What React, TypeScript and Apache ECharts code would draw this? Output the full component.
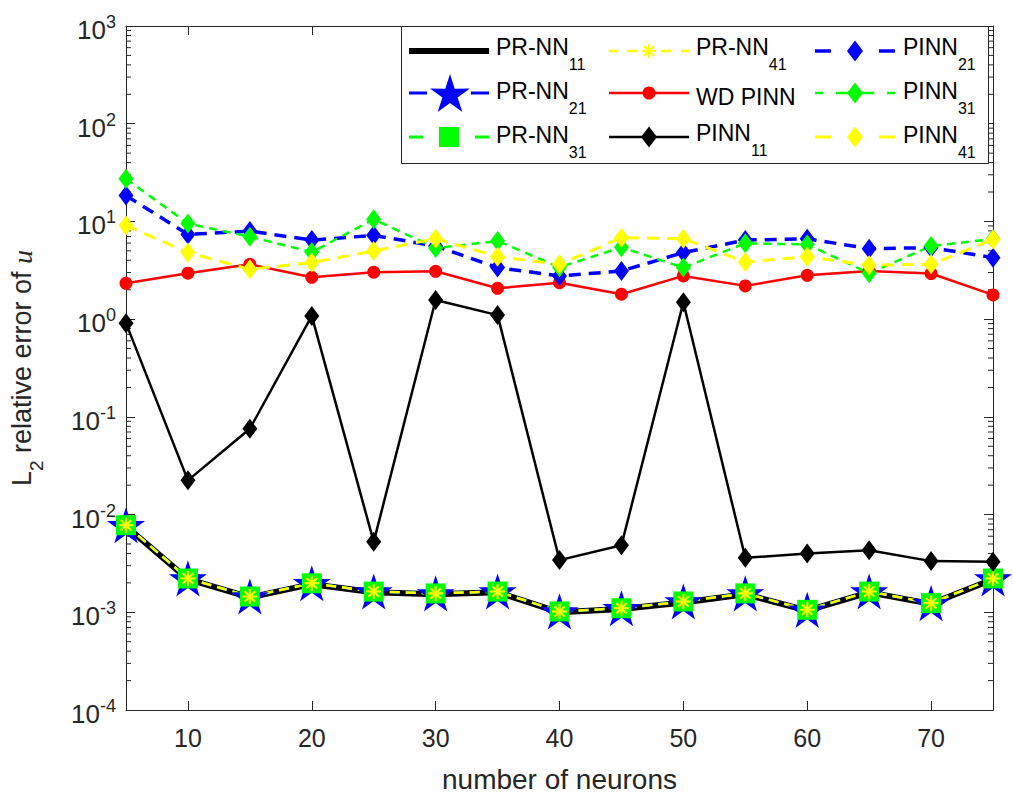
import React, { useEffect, useRef } from 'react';
import * as echarts from 'echarts';

const neurons = [5, 10, 15, 20, 25, 30, 35, 40, 45, 50, 55, 60, 65, 70, 75];
const prnn11 = [0.0076, 0.00218, 0.00142, 0.00194, 0.0016, 0.00153, 0.0016, 0.001, 0.00108, 0.00126, 0.00153, 0.00104, 0.0016, 0.00122, 0.00218];
const prnn21 = [0.00778, 0.00222, 0.00145, 0.00198, 0.00163, 0.00156, 0.00163, 0.00102, 0.0011, 0.00129, 0.00156, 0.00106, 0.00163, 0.00124, 0.00222];
const prnn31 = [0.00778, 0.00222, 0.00145, 0.00198, 0.00163, 0.00156, 0.00163, 0.00102, 0.0011, 0.00129, 0.00156, 0.00106, 0.00163, 0.00124, 0.00222];
const prnn41 = [0.00778, 0.00222, 0.00145, 0.00198, 0.00163, 0.00156, 0.00163, 0.00102, 0.0011, 0.00129, 0.00156, 0.00106, 0.00163, 0.00124, 0.00222];
const wdPinn = [2.33, 2.95, 3.64, 2.68, 3.02, 3.09, 2.07, 2.36, 1.8, 2.77, 2.19, 2.81, 3.11, 2.93, 1.77];
const pinn11 = [0.91, 0.0224, 0.0755, 1.08, 0.00526, 1.57, 1.1, 0.00342, 0.00486, 1.49, 0.00361, 0.004, 0.00432, 0.00334, 0.00329];
const pinn21 = [18.4, 7.37, 7.96, 6.44, 7.2, 5.6, 3.37, 2.77, 3.11, 4.8, 6.44, 6.66, 5.26, 5.39, 4.26];
const pinn31 = [27.3, 9.5, 6.98, 4.86, 10.5, 5.34, 6.3, 3.4, 5.43, 3.37, 5.97, 5.82, 2.95, 5.6, 6.6];
const pinn41 = [9.1, 4.8, 3.24, 3.79, 4.98, 6.66, 4.36, 3.64, 6.82, 6.66, 3.84, 4.36, 3.56, 3.64, 6.55];

const xTicks = [10, 20, 30, 40, 50, 60, 70];
const minorMultipliers = [2, 3, 4, 5, 6, 7, 8, 9];
const minorDecades = [-4, -3, -2, -1, 0, 1, 2];

const legendLabels: Record<string, string> = {
  'PR-NN11': '{m|PR-NN}{sub|11}',
  'PR-NN21': '{m|PR-NN}{sub|21}',
  'PR-NN31': '{m|PR-NN}{sub|31}',
  'PR-NN41': '{m|PR-NN}{sub|41}',
  'WD PINN': '{w|WD PINN}',
  'PINN11': '{m|PINN}{sub|11}',
  'PINN21': '{m|PINN}{sub|21}',
  'PINN31': '{m|PINN}{sub|31}',
  'PINN41': '{m|PINN}{sub|41}',
};

const STAR = 'path://M50 0 L61.17 34.63 L97.55 34.55 L68.07 55.87 L79.39 90.45 L50 69 L20.61 90.45 L31.93 55.87 L2.45 34.55 L38.83 34.63 Z';
const ASTERISK = 'path://M0 43 H100 V57 H0 Z M43 0 H57 V100 H43 Z M19.95 10.05 L89.95 80.05 L80.05 89.95 L10.05 19.95 Z M89.95 19.95 L19.95 89.95 L10.05 80.05 L80.05 10.05 Z';
const STAR_UNIT = [
  [0, -1], [0.2234, -0.3074], [0.951, -0.309], [0.3614, 0.1174], [0.5878, 0.809],
  [0, 0.38], [-0.5878, 0.809], [-0.3614, 0.1174], [-0.951, -0.309], [-0.2234, -0.3074],
];

const FONT = "'Liberation Sans', Arial, Helvetica, sans-serif";
const AX = '#262626';
const BLUE = '#0000ff';
const GREEN = '#00ff00';
const YELLOW = '#ffff00';
const RED = '#ff0000';
const BLACK = '#000000';

function toPairs(vals: number[]) {
  return neurons.map((n, i) => [n, vals[i]]);
}

// legend icon helpers (decoration only)
const Z_ICON = 20;
function seg(x1: number, x2: number, y: number, color: string, w: number) {
  return { type: 'line', z: Z_ICON, silent: true, shape: { x1, y1: y, x2, y2: y }, style: { stroke: color, lineWidth: w } };
}
function diamond(cx: number, cy: number, color: string) {
  return {
    type: 'polygon', z: Z_ICON + 1, silent: true,
    shape: { points: [[cx, cy - 10.5], [cx + 8, cy], [cx, cy + 10.5], [cx - 8, cy]] },
    style: { fill: color },
  };
}
function star(cx: number, cy: number, r: number, color: string) {
  return {
    type: 'polygon', z: Z_ICON + 1, silent: true,
    shape: { points: STAR_UNIT.map((p) => [cx + p[0] * r, cy + p[1] * r + r * 0.1]) },
    style: { fill: color },
  };
}
function asterisk(cx: number, cy: number, r: number, color: string) {
  const d = r * 0.72;
  return {
    type: 'group', z: Z_ICON + 1, silent: true,
    children: [
      { type: 'line', z: Z_ICON + 1, shape: { x1: cx - r, y1: cy, x2: cx + r, y2: cy }, style: { stroke: color, lineWidth: 2 } },
      { type: 'line', z: Z_ICON + 1, shape: { x1: cx, y1: cy - r, x2: cx, y2: cy + r }, style: { stroke: color, lineWidth: 2 } },
      { type: 'line', z: Z_ICON + 1, shape: { x1: cx - d, y1: cy - d, x2: cx + d, y2: cy + d }, style: { stroke: color, lineWidth: 2 } },
      { type: 'line', z: Z_ICON + 1, shape: { x1: cx + d, y1: cy - d, x2: cx - d, y2: cy + d }, style: { stroke: color, lineWidth: 2 } },
    ],
  };
}

export default function App() {
  const ref = useRef<HTMLDivElement>(null);
  useEffect(() => {
    if (!ref.current) return;
    const chart = echarts.init(ref.current, undefined, { renderer: 'svg' });

    const minorData: number[][] = [];
    minorDecades.forEach((d) => {
      minorMultipliers.forEach((m) => {
        minorData.push([5, m * Math.pow(10, d)]);
      });
    });

    const legendText = {
      fontFamily: FONT,
      fontSize: 23,
      color: '#000',
      rich: {
        m: { fontFamily: FONT, fontSize: 23, color: '#000', lineHeight: 26, verticalAlign: 'top' },
        w: { fontFamily: FONT, fontSize: 23, color: '#000', lineHeight: 26, verticalAlign: 'top', padding: [5, 0, 6, 0] },
        sub: { fontFamily: FONT, fontSize: 16, color: '#000', lineHeight: 37, verticalAlign: 'bottom' },
      },
    };

    const mkLegend = (names: string[], left: number) => ({
      data: names,
      orient: 'vertical',
      left,
      top: 35,
      padding: 0,
      itemWidth: 81,
      itemHeight: 36,
      itemGap: 7,
      selectedMode: false,
      formatter: (n: string) => legendLabels[n] || n,
      textStyle: legendText,
      itemStyle: { opacity: 0 },
      lineStyle: { opacity: 0 },
      z: 10,
    });

    const r1 = 51, r2 = 93, r3 = 137;
    const legendIcons: any[] = [
      // column 1
      seg(409, 489, r1, BLACK, 6),
      seg(409, 427, r2, BLUE, 3), seg(471, 489, r2, BLUE, 3), star(450, r2, 21, BLUE),
      seg(409, 423, r3, GREEN, 3), seg(475, 489, r3, GREEN, 3),
      { type: 'rect', z: Z_ICON + 1, silent: true, shape: { x: 439, y: r3 - 10, width: 20, height: 20 }, style: { fill: GREEN } },
      // column 2
      seg(609, 617, r1, YELLOW, 2.5), seg(627, 637, r1, YELLOW, 2.5), seg(661, 671, r1, YELLOW, 2.5), seg(681, 689, r1, YELLOW, 2.5),
      asterisk(649, r1, 7, YELLOW),
      seg(609, 689, r2, RED, 2.5),
      { type: 'circle', z: Z_ICON + 1, silent: true, shape: { cx: 649, cy: r2, r: 6.5 }, style: { fill: RED } },
      seg(609, 689, r3, BLACK, 2.5), diamond(649, r3, BLACK),
      // column 3
      seg(815, 831, r1, BLUE, 3.5), seg(879, 895, r1, BLUE, 3.5), diamond(855, r1, BLUE),
      seg(815, 823, r2, GREEN, 2.5), seg(836, 848, r2, GREEN, 2.5), seg(862, 874, r2, GREEN, 2.5), seg(887, 895, r2, GREEN, 2.5), diamond(855, r2, GREEN),
      seg(815, 831, r3, YELLOW, 3), seg(879, 895, r3, YELLOW, 3), diamond(855, r3, YELLOW),
    ];

    const dashed = [10, 6];

    const option: any = {
      animation: false,
      backgroundColor: '#fff',
      grid: { left: 120, right: 20, top: 26, bottom: 86 },
      graphic: [
        {
          type: 'rect',
          left: 401,
          top: 26,
          shape: { width: 587, height: 137 },
          style: { fill: '#fff', stroke: AX, lineWidth: 1 },
          z: 5,
          silent: true,
        },
        ...legendIcons,
      ],
      legend: [
        mkLegend(['PR-NN11', 'PR-NN21', 'PR-NN31'], 409),
        mkLegend(['PR-NN41', 'WD PINN', 'PINN11'], 609),
        mkLegend(['PINN21', 'PINN31', 'PINN41'], 816),
      ],
      xAxis: [
        {
          type: 'value',
          min: 5,
          max: 75,
          name: 'number of neurons',
          nameLocation: 'middle',
          nameGap: 55,
          nameTextStyle: { fontFamily: FONT, fontSize: 28, color: AX },
          axisLine: { show: true, lineStyle: { color: AX, width: 1 } },
          axisTick: { show: true, inside: true, length: 9, customValues: xTicks, lineStyle: { color: AX } },
          axisLabel: { customValues: xTicks, fontFamily: FONT, fontSize: 25, color: AX, margin: 15 },
          splitLine: { show: false },
        },
        {
          type: 'value',
          min: 5,
          max: 75,
          position: 'top',
          axisLine: { show: true, lineStyle: { color: AX, width: 1 } },
          axisTick: { show: true, inside: true, length: 9, customValues: xTicks, lineStyle: { color: AX } },
          axisLabel: { show: false },
          splitLine: { show: false },
        },
      ],
      yAxis: [
        {
          type: 'log',
          logBase: 10,
          min: 1e-4,
          max: 1e3,
          interval: 1,
          name: '{m|L}{sub|2}{m| relative error of }{it|u}',
          nameLocation: 'middle',
          nameGap: 80,
          nameRotate: 90,
          nameTextStyle: {
            fontFamily: FONT,
            fontSize: 27,
            color: AX,
            rich: {
              m: { fontFamily: FONT, fontSize: 27, color: AX, lineHeight: 30, verticalAlign: 'top' },
              sub: { fontFamily: FONT, fontSize: 19, color: AX, lineHeight: 38, verticalAlign: 'bottom' },
              it: { fontFamily: "'Liberation Serif', 'Times New Roman', serif", fontStyle: 'italic', fontSize: 28, color: AX, lineHeight: 30, verticalAlign: 'top' },
            },
          },
          axisLine: { show: true, lineStyle: { color: AX, width: 1 } },
          axisTick: { show: true, inside: true, length: 9, lineStyle: { color: AX } },
          axisLabel: {
            margin: 10,
            color: AX,
            formatter: (v: number) => `{b|10}{sup|${Math.round(Math.log10(v))}}`,
            rich: {
              b: { fontFamily: FONT, fontSize: 26, color: AX, verticalAlign: 'bottom', lineHeight: 34 },
              sup: { fontFamily: FONT, fontSize: 18, color: AX, verticalAlign: 'bottom', lineHeight: 34, padding: [0, 0, 12, 0] },
            },
          },
          splitLine: { show: false },
        },
        {
          type: 'log',
          logBase: 10,
          min: 1e-4,
          max: 1e3,
          interval: 1,
          position: 'right',
          axisLine: { show: true, lineStyle: { color: AX, width: 1 } },
          axisTick: { show: true, inside: true, length: 9, lineStyle: { color: AX } },
          axisLabel: { show: false },
          splitLine: { show: false },
        },
      ],
      series: [
        {
          type: 'custom',
          name: 'minor',
          silent: true,
          data: minorData,
          renderItem: (params: any, api: any) => {
            const v = api.value(1);
            const l = api.coord([5, v]);
            const r = api.coord([75, v]);
            return {
              type: 'group',
              children: [
                { type: 'line', shape: { x1: l[0], y1: l[1], x2: l[0] + 5, y2: l[1] }, style: { stroke: AX, lineWidth: 1 } },
                { type: 'line', shape: { x1: r[0] - 5, y1: r[1], x2: r[0], y2: r[1] }, style: { stroke: AX, lineWidth: 1 } },
              ],
            };
          },
          z: 1,
        },
        {
          name: 'PR-NN11', type: 'line', data: toPairs(prnn11), symbol: 'none',
          lineStyle: { color: BLACK, width: 6 }, itemStyle: { color: BLACK },
        },
        {
          name: 'PR-NN21', type: 'line', data: toPairs(prnn21), symbol: STAR, symbolSize: 38, symbolKeepAspect: true,
          lineStyle: { color: BLUE, width: 3, type: dashed }, itemStyle: { color: BLUE },
        },
        {
          name: 'PR-NN31', type: 'line', data: toPairs(prnn31), symbol: 'rect', symbolSize: 20,
          lineStyle: { color: GREEN, width: 2.5, type: dashed }, itemStyle: { color: GREEN },
        },
        {
          name: 'PR-NN41', type: 'line', data: toPairs(prnn41), symbol: ASTERISK, symbolSize: 15,
          lineStyle: { color: YELLOW, width: 2.5, type: dashed }, itemStyle: { color: YELLOW },
        },
        {
          name: 'WD PINN', type: 'line', data: toPairs(wdPinn), symbol: 'circle', symbolSize: 13,
          lineStyle: { color: RED, width: 2.5 }, itemStyle: { color: RED },
        },
        {
          name: 'PINN11', type: 'line', data: toPairs(pinn11), symbol: 'diamond', symbolSize: [15, 20],
          lineStyle: { color: BLACK, width: 2.5 }, itemStyle: { color: BLACK },
        },
        {
          name: 'PINN21', type: 'line', data: toPairs(pinn21), symbol: 'diamond', symbolSize: [15, 20],
          lineStyle: { color: BLUE, width: 3.5, type: [12, 8] }, itemStyle: { color: BLUE },
        },
        {
          name: 'PINN31', type: 'line', data: toPairs(pinn31), symbol: 'diamond', symbolSize: [15, 20],
          lineStyle: { color: GREEN, width: 2.5, type: [8, 6] }, itemStyle: { color: GREEN },
        },
        {
          name: 'PINN41', type: 'line', data: toPairs(pinn41), symbol: 'diamond', symbolSize: [15, 20],
          lineStyle: { color: YELLOW, width: 3, type: [12, 8] }, itemStyle: { color: YELLOW },
        },
      ],
    };
    chart.setOption(option);
    return () => chart.dispose();
  }, []);
  return <div ref={ref} style={{ position: 'absolute', left: 0, top: 0, width: 1013, height: 798, background: '#fff' }} />;
}
